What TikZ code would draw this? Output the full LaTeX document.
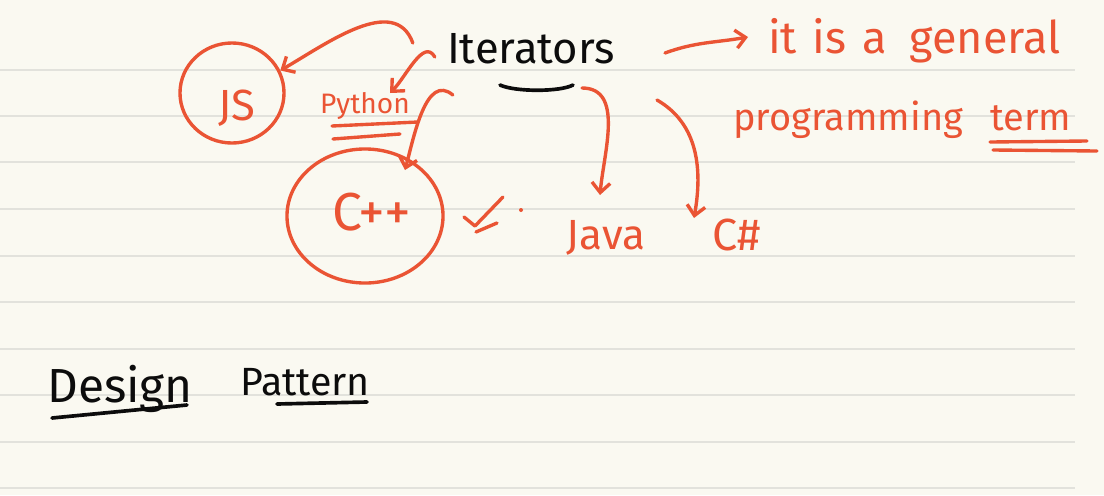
\documentclass[tikz,border=0pt]{standalone}
\usepackage{fontspec}
\setmainfont{Fira Sans}
\usepackage{xcolor}
\usepackage{tikz}
\usetikzlibrary{arrows.meta,shapes.geometric}
\definecolor{nbpaper}{RGB}{250,249,241}
\definecolor{nbrule}{RGB}{226,226,220}
\definecolor{nbred}{RGB}{234,84,52}
\definecolor{nbblack}{RGB}{12,12,12}
\tikzset{
  nbline/.style={line width=0.9pt, draw=nbrule},
  nbpen/.style={line width=2.6pt, draw=nbblack, line cap=round},
  nbink/.style={line width=2.4pt, draw=nbred, line cap=round, line join=round},
  nbarrow/.style={nbink, -{Straight Barb[length=7pt,width=13pt]}},
  nbring/.style={ellipse, draw=nbred, line width=2.4pt, inner sep=0pt},
  nbtext/.style={text=nbred, inner sep=0pt},
  nbword/.style={text=nbblack, inner sep=0pt},
}

\begin{document}
\begin{tikzpicture}[x=0.025cm, y=-0.025cm]
\useasboundingbox (0,0) rectangle (1104,495);
\fill[nbpaper] (0,0) rectangle (1104,495);
\draw[nbline] (0,70) -- (1075,70);
\draw[nbline] (0,116) -- (1075,116);
\draw[nbline] (0,162) -- (1075,162);
\draw[nbline] (0,209) -- (1075,209);
\draw[nbline] (0,256) -- (1075,256);
\draw[nbline] (0,302) -- (1075,302);
\draw[nbline] (0,349) -- (1075,349);
\draw[nbline] (0,395) -- (1075,395);
\draw[nbline] (0,442) -- (1075,442);
\draw[nbline] (0,488) -- (1075,488);

\node[nbword, font=\fontsize{31}{36}\selectfont] (iter) at (531,49) {Iterators};
\node[nbtext, font=\fontsize{31}{36}\selectfont] (js) at (237,108) {JS};
\node[nbring, minimum width=2.6cm, minimum height=2.5cm] (jsring) at (232,93) {};
\node[nbtext, font=\fontsize{20}{24}\selectfont] (py) at (365,106) {Python};
\node[nbtext, font=\fontsize{38}{44}\selectfont] (cpp) at (372,212) {C++};
\node[nbring, minimum width=3.9cm, minimum height=3.35cm] (cring) at (365,216) {};
\node[nbtext, font=\fontsize{30}{36}\selectfont] (java) at (606,238) {Java};
\node[nbtext, font=\fontsize{32}{38}\selectfont] (csharp) at (737,235) {C\#};
\node[nbtext, anchor=base west, font=\fontsize{32}{38}\selectfont] (general) at (768,53) {it\hspace{0.35em}is\hspace{0.35em}a\hspace{0.5em}general};
\node[nbtext, anchor=base west, font=\fontsize{27}{32}\selectfont] (prog) at (733,130) {programming};
\node[nbtext, anchor=base west, font=\fontsize{27}{32}\selectfont] (term) at (990,130) {term};
\node[nbword, anchor=base west, font=\fontsize{34}{40}\selectfont] (design) at (47,402) {Design};
\node[nbword, anchor=base west, font=\fontsize{28}{34}\selectfont] (pattern) at (240,395) {Pattern};

% underlines
\draw[nbpen] (500,85) .. controls (515,92) and (560,92) .. (573,85);
\draw[nbink] (332,126) -- (418,122);
\draw[nbink] (333,139) -- (400,134);
\draw[nbink] (990,142) -- (1087,141);
\draw[nbink] (993,150) -- (1097,151);
\draw[nbpen] (52,418) -- (187,405);
\draw[nbpen] (277,404) -- (367,402);

% tick
\draw[nbink] (464,217) -- (475,226) -- (503,197);
\draw[nbink] (476,232) -- (497,223);
\fill[nbred] (521,210) circle (2);

% arrows
\draw[nbarrow] ([shift={(-34,-6)}]iter.west) to[out=110,in=30] (jsring.25);
\draw[nbarrow] ([shift={(-12,8)}]iter.west) to[out=120,in=45] ([shift={(25,-13)}]py.center);
\draw[nbarrow] ([shift={(6,46)}]iter.west) to[out=140,in=75] ([shift={(40,-46)}]cring.center);
\draw[nbarrow] ([shift={(51,39)}]iter.center) to[out=0,in=85] ([shift={(-6,-43)}]java.center);
\draw[nbarrow] ([shift={(126,51)}]iter.center) to[out=-30,in=80] ([shift={(-43,-17)}]csharp.center);
\draw[nbarrow] ([shift={(134,4)}]iter.center) to[out=20,in=190] ([shift={(-20,-16)}]general.base west);
\end{tikzpicture}
\end{document}
